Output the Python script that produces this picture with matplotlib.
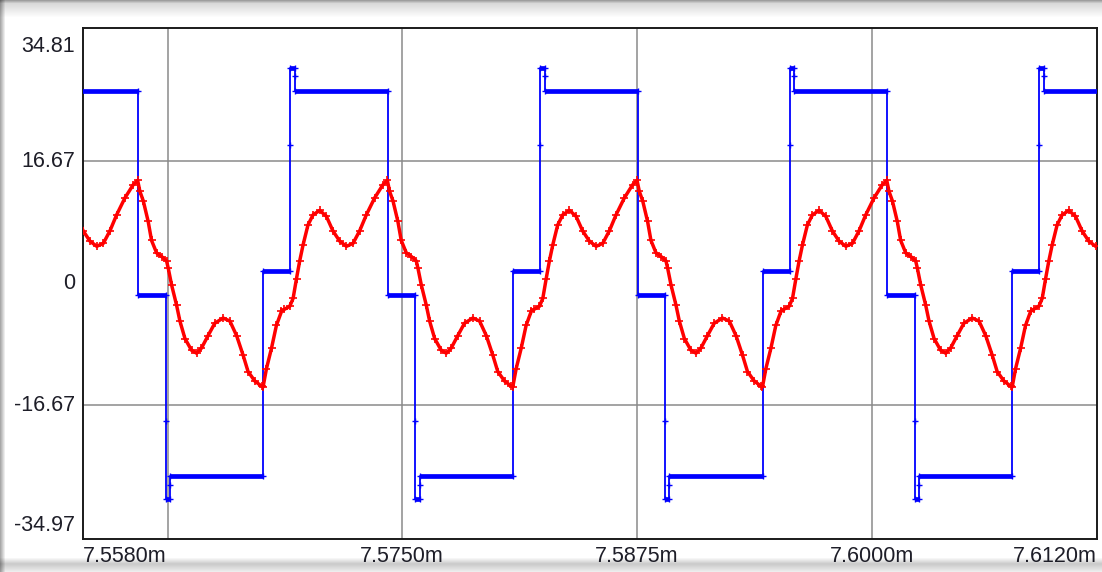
import numpy as np
import matplotlib
matplotlib.use("Agg")
import matplotlib.pyplot as plt

# time axis in ms (tick labels carry the "m" suffix)
x_min, x_max = 7.5580, 7.6120
y_min, y_max = -34.97, 34.81
x_ticks = [7.5580, 7.5750, 7.5875, 7.6000, 7.6120]
x_grid = [7.5625, 7.5750, 7.5875, 7.6000]
y_ticks = [34.81, 16.67, 0, -16.67, -34.97]
y_grid = [16.67, -16.67]

# both traces repeat every switching cycle
period = 0.013298
cycles = [-1, 0, 1, 2, 3]

# red trace, one cycle (starts at its positive peak)
red_t = [7.56091, 7.56103, 7.56121, 7.56147, 7.56165, 7.56192, 7.56219, 7.56245,
         7.56254, 7.56272, 7.56298, 7.56316, 7.56343, 7.56378, 7.56405, 7.56431,
         7.56466, 7.56502, 7.56546, 7.56582, 7.56618, 7.56653, 7.56679, 7.56715,
         7.56751, 7.56759, 7.56777, 7.56804, 7.56830, 7.56857, 7.56873, 7.56901,
         7.56919, 7.56937, 7.56954, 7.56972, 7.56998, 7.57025, 7.57061, 7.57096,
         7.57131, 7.57167, 7.57203, 7.57238, 7.57273, 7.57309, 7.57353, 7.57397]
red_v = [14.0, 12.5, 11.2, 8.4, 5.8, 4.1, 3.6, 3.0,
         2.0, -0.3, -3.0, -5.2, -7.6, -9.2, -9.6, -8.9,
         -7.2, -5.5, -4.8, -5.2, -7.2, -9.9, -12.1, -13.4,
         -14.1, -14.2, -11.7, -8.9, -5.8, -3.9, -3.6, -3.2,
         -2.1, 0.6, 3.0, 5.2, 7.9, 9.3, 9.9, 9.1,
         7.1, 5.7, 5.0, 5.4, 7.1, 9.3, 11.6, 13.4]

# blue trace, one cycle (starts at the rising edge)
blue_t = [7.56904, 7.56904, 7.56904, 7.56928, 7.56928, 7.56928, 7.57424, 7.57424,
          7.57570, 7.57570, 7.57570, 7.57593, 7.57593, 7.57593, 7.58089, 7.58089]
blue_v = [1.6, 18.8, 29.4, 29.4, 28.2, 26.2, 26.2, -1.6,
          -1.6, -18.8, -29.5, -29.5, -27.6, -26.4, -26.4, 1.6]

rt = np.concatenate([np.array(red_t) + k * period for k in cycles])
rv = np.concatenate([red_v for k in cycles])
bt = np.concatenate([np.array(blue_t) + k * period for k in cycles])
bv = np.concatenate([blue_v for k in cycles])

W, H = 1102, 572
fig = plt.figure(figsize=(W / 100, H / 100), dpi=100)

# window frame shading
bg = np.ones((H, W, 3))
top = np.concatenate([np.linspace(0.62, 0.78, 3), np.linspace(0.85, 1.0, 15)])
bg[:len(top)] *= top[:, None, None]
left = np.linspace(0.66, 1.0, 6)
bg[:, :len(left)] *= left[None, :, None]
bot = np.concatenate([np.linspace(1.0, 0.80, 7), np.linspace(0.80, 0.93, 8)])
bg[H - len(bot):] *= bot[:, None, None]
fig.figimage(bg, xo=0, yo=0, origin="upper", zorder=-5)

ax = fig.add_axes([83 / W, 33 / H, 1014 / W, 511 / H])
ax.set_zorder(1)
ax.set_facecolor("white")
ax.set_xlim(x_min, x_max)
ax.set_ylim(y_min, y_max)

for g in x_grid:
    ax.axvline(g, color="#8a8a8a", lw=1.1, zorder=1)
for g in y_grid:
    ax.axhline(g, color="#8a8a8a", lw=1.1, zorder=1)

# blue: thin transitions, thick flat parts (dense samples in the original)
ax.plot(bt, bv, color="#0000ff", lw=1.3, marker="+", ms=5, mew=1, zorder=3)
for i in range(len(bt) - 1):
    if bv[i] == bv[i + 1] and bt[i + 1] > bt[i]:
        ax.plot([bt[i], bt[i + 1]], [bv[i], bv[i]], color="#0000ff", lw=3.4,
                solid_capstyle="butt", zorder=3)

ax.plot(rt, rv, color="#ff0000", lw=2.5, marker="+", ms=6, mew=1.2, zorder=4)

ax.set_xticks([])
ax.set_yticks([])
for s in ax.spines.values():
    s.set_color("#1a1a1a")
    s.set_linewidth(1.4)

font = dict(family="Liberation Sans", size=15.5, color="#1e1e28")

for v in y_ticks:
    if v == y_max:
        va, dy = "top", -8
    elif v == y_min:
        va, dy = "bottom", 3
    else:
        va, dy = "center", -1
    ax.annotate(f"{v:g}", xy=(0, v), xycoords=("axes fraction", "data"),
                xytext=(-8, dy), textcoords="offset pixels",
                ha="right", va=va, annotation_clip=False, **font)

for v in x_ticks:
    if v == x_min:
        ha = "left"
    elif v == x_max:
        ha = "right"
    else:
        ha = "center"
    ax.annotate(f"{v:.4f}m", xy=(v, 0), xycoords=("data", "axes fraction"),
                xytext=(0, -7), textcoords="offset pixels",
                ha=ha, va="top", annotation_clip=False, **font)

fig.savefig("out.png", dpi=100)
